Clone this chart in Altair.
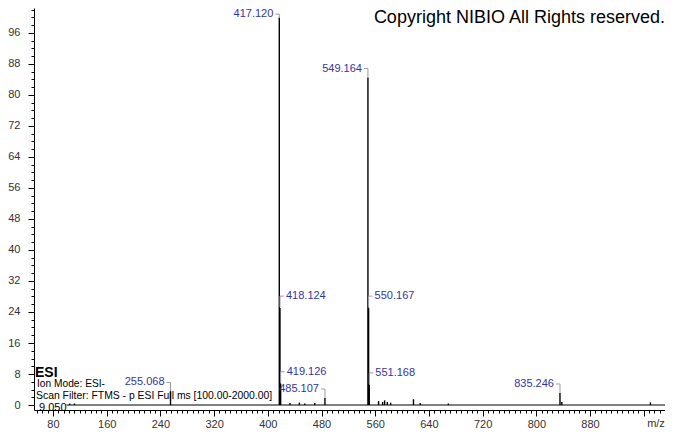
import altair as alt
import pandas as pd

# ---- data ----
peak_mz = [105.0, 112.0, 255.068, 417.120, 418.124, 419.126, 433.0, 447.0, 455.0,
           470.0, 485.107, 549.164, 550.167, 551.168, 565.0, 571.0, 574.0, 578.0,
           583.0, 617.0, 627.0, 669.0, 835.246, 838.0, 970.0]
peak_int = [0.4, 0.4, 3.5, 100.0, 25.0, 5.5, 0.5, 0.6, 0.4,
            0.5, 1.8, 84.5, 25.0, 5.2, 1.0, 0.8, 1.2, 0.8,
            0.6, 1.5, 0.5, 0.4, 3.1, 0.8, 0.7]

label_mz = [255.068, 417.120, 418.124, 419.126, 485.107, 549.164, 550.167, 551.168, 835.246]
label_int = [3.5, 100.0, 25.0, 5.5, 1.8, 84.5, 25.0, 5.2, 3.1]
label_text = ["255.068", "417.120", "418.124", "419.126", "485.107",
              "549.164", "550.167", "551.168", "835.246"]
label_side = ["left", "left", "right", "right", "left", "left", "right", "right", "left"]

scan_range = [100.0, 2000.0]
x_ticks = list(range(56, 992, 8))
y_ticks = list(range(0, 103, 2))

header_lines = ["Ion Mode: ESI-", "Scan Filter: FTMS - p ESI Full ms [100.00-2000.00]"]
rt_text = "9.050"
copyright_text = "Copyright NIBIO All Rights reserved."

# ---- tables ----
peaks = pd.DataFrame({"mz": peak_mz, "inten": peak_int, "base": 0.0})
labels = pd.DataFrame({"mz": label_mz, "inten": label_int, "text": label_text, "side": label_side})
baseline = pd.DataFrame({"start": [scan_range[0]], "end": [scan_range[1]], "y": [0.0]})

FONT = "Liberation Sans"
BLUE = "#3434a6"
GRAY = "#9a9aa8"

YMAX = 102.45
xscale = alt.Scale(domain=[51.7, 991.7], nice=False, zero=False)
yscale = alt.Scale(domain=[-1.29, YMAX], nice=False, zero=False)

xaxis = alt.Axis(
    values=x_ticks, title=None, grid=False, labelOverlap=False, labelFlush=False,
    labelExpr="(datum.value % 80 === 0 && datum.value < 950) ? datum.label : ''",
    tickSize={"condition": {"test": "datum.value % 80 === 0", "value": 6}, "value": 3},
    labelPadding=2, domainColor="black", tickColor="black",
)
yaxis = alt.Axis(
    values=y_ticks, title=None, grid=False, labelOverlap=False, labelFlush=False,
    labelExpr="datum.value % 8 === 0 ? datum.label : ''",
    tickSize={"condition": {"test": "datum.value % 8 === 0", "value": 6}, "value": 3},
    labelPadding=8, domainColor="black", tickColor="black",
)

X = alt.X("mz:Q", scale=xscale, axis=xaxis)
Y = alt.Y("inten:Q", scale=yscale, axis=yaxis)

base_line = alt.Chart(baseline).mark_rule(color="black", strokeWidth=1, clip=True).encode(
    x=alt.X("start:Q", scale=xscale, axis=xaxis), x2="end:Q",
    y=alt.Y("y:Q", scale=yscale, axis=yaxis),
)

peak_rules = alt.Chart(peaks).mark_rule(color="black", strokeWidth=1.4).encode(
    x=X, y=alt.Y("base:Q", scale=yscale, axis=yaxis), y2="inten:Q",
)

# label anchor: keep the top label inside the picture
lab = alt.Chart(labels).transform_calculate(ly=f"min(datum.inten, {YMAX} - 3.9)")
left = lab.transform_filter("datum.side === 'left'")
right = lab.transform_filter("datum.side === 'right'")
LY = alt.Y("ly:Q", scale=yscale, axis=yaxis)

left_text = left.mark_text(align="right", baseline="middle", dx=-6, dy=-9,
                           font=FONT, fontSize=11, color=BLUE).encode(x=X, y=LY, text="text:N")
right_text = right.mark_text(align="left", baseline="middle", dx=6, dy=-12,
                             font=FONT, fontSize=11, color=BLUE).encode(x=X, y=Y, text="text:N")

left_vert = left.mark_rule(color=GRAY, strokeWidth=1, y2Offset=-9).encode(
    x=X, y=Y, y2="ly:Q")
right_vert = right.mark_rule(color=GRAY, strokeWidth=1, yOffset=-1, y2Offset=-12).encode(
    x=X, y=Y, y2="inten:Q")
left_horz = left.mark_rule(color=GRAY, strokeWidth=1, yOffset=-9, y2Offset=-9, x2Offset=-4).encode(
    x=X, x2="mz:Q", y=LY, y2="ly:Q")
right_horz = right.mark_rule(color=GRAY, strokeWidth=1, yOffset=-12, y2Offset=-12, x2Offset=4).encode(
    x=X, x2="mz:Q", y=Y, y2="inten:Q")

ann = alt.Chart(pd.DataFrame({"a": [0]}))
copyright_mark = ann.mark_text(align="right", baseline="middle", font=FONT, fontSize=18,
                               color="black").encode(
    x=alt.value(631), y=alt.value(10), text=alt.value(copyright_text))
esi_mark = ann.mark_text(align="left", baseline="middle", font=FONT, fontSize=14,
                         fontWeight="bold", color="black").encode(
    x=alt.value(1), y=alt.value(365), text=alt.value("ESI"))
ion_mark = ann.mark_text(align="left", baseline="middle", font=FONT, fontSize=10.2,
                         color="black").encode(
    x=alt.value(3), y=alt.value(376), text=alt.value(header_lines[0]))
scan_mark = ann.mark_text(align="left", baseline="middle", font=FONT, fontSize=10.4,
                          color="black").encode(
    x=alt.value(2), y=alt.value(388), text=alt.value(header_lines[1]))
rt_mark = ann.mark_text(align="left", baseline="middle", font=FONT, fontSize=11,
                        color="black").encode(
    x=alt.value(5), y=alt.value(400), text=alt.value(rt_text))
mz_mark = ann.mark_text(align="center", baseline="middle", font=FONT, fontSize=11,
                        color="#333333").encode(
    x=alt.value(622), y=alt.value(416), text=alt.value("m/z"))

chart = alt.layer(
    base_line, peak_rules, left_vert, right_vert, left_horz, right_horz,
    left_text, right_text, copyright_mark, esi_mark, ion_mark, scan_mark, rt_mark, mz_mark,
).properties(
    width=631, height=402,
    autosize=alt.AutoSizeParams(type="none"),
    padding={"left": 26, "top": 0, "right": 0, "bottom": 23},
    background="white",
).configure_view(stroke=None).configure_axis(
    labelFont=FONT, labelFontSize=11, labelColor="#333333",
)

chart.save("out.html", embed_options={"renderer": "svg", "actions": False})
